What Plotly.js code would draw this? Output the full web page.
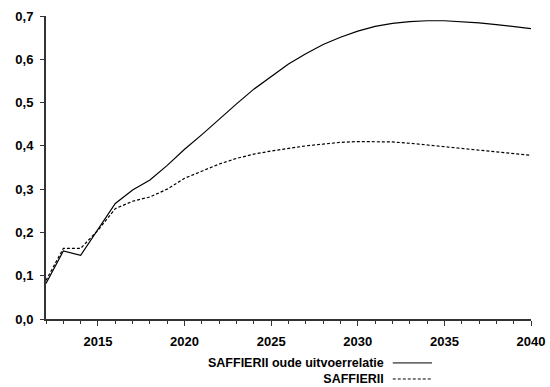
<!DOCTYPE html>
<html>
<head>
<meta charset="utf-8">
<script src="https://cdn.plot.ly/plotly-3.0.1.min.js"></script>
<style>
  html, body { margin: 0; padding: 0; background: #fff; }
  #chart { width: 550px; height: 387px; }
</style>
</head>
<body>
<div id="chart"></div>
<script>
// Years on the horizontal axis
const years = [2012, 2013, 2014, 2015, 2016, 2017, 2018, 2019, 2020, 2021,
               2022, 2023, 2024, 2025, 2026, 2027, 2028, 2029, 2030, 2031,
               2032, 2033, 2034, 2035, 2036, 2037, 2038, 2039, 2040];

// SAFFIERII with the old output relation (solid)
const oudeUitvoerrelatie = [0.082, 0.157, 0.147, 0.207, 0.267, 0.298, 0.321, 0.355, 0.392, 0.426,
                            0.462, 0.497, 0.531, 0.561, 0.589, 0.613, 0.634, 0.651, 0.665, 0.676,
                            0.683, 0.687, 0.689, 0.689, 0.687, 0.684, 0.680, 0.676, 0.671];

// SAFFIERII (dashed)
const saffierII = [0.089, 0.163, 0.163, 0.205, 0.255, 0.272, 0.282, 0.300, 0.325, 0.342,
                   0.358, 0.371, 0.381, 0.388, 0.394, 0.400, 0.404, 0.408, 0.410, 0.410,
                   0.409, 0.406, 0.402, 0.398, 0.394, 0.390, 0.386, 0.382, 0.378];

const seriesNames = ['SAFFIERII oude uitvoerrelatie', 'SAFFIERII'];
const yTicks = [0, 0.1, 0.2, 0.3, 0.4, 0.5, 0.6, 0.7];

const fontFamily = 'Liberation Sans, Arial, sans-serif';
const axisColor = '#333333';

const traces = [
  {
    x: years, y: oudeUitvoerrelatie, name: seriesNames[0],
    type: 'scatter', mode: 'lines', line: { color: '#000', width: 1.2 },
    showlegend: false, hoverinfo: 'skip'
  },
  {
    x: years, y: saffierII, name: seriesNames[1],
    type: 'scatter', mode: 'lines', line: { color: '#000', width: 1.2, dash: '3px,2px' },
    showlegend: false, hoverinfo: 'skip'
  }
];

// Legend drawn beneath the axis: right-aligned labels (one text block)
// with a line sample after each row
const legendDashes = ['solid', '3px,2px'];
const legendRowY = [-0.145, -0.198];
const annotations = [{
  xref: 'paper', yref: 'paper', x: 0.701, y: (legendRowY[0] + legendRowY[1]) / 2,
  xanchor: 'right', yanchor: 'middle', align: 'right',
  text: seriesNames.map(n => '<b>' + n + '</b>').join('<br>'), showarrow: false,
  font: { family: fontFamily, size: 12.5, color: '#000' }
}];
const shapes = seriesNames.map((n, i) => ({
  type: 'line', xref: 'paper', yref: 'paper', x0: 0.715, x1: 0.796, y0: legendRowY[i], y1: legendRowY[i],
  line: { color: '#000', width: 1, dash: legendDashes[i] }
}));

const layout = {
  width: 550, height: 387,
  margin: { l: 46, r: 19, t: 16, b: 68 },
  paper_bgcolor: '#fff', plot_bgcolor: '#fff',
  separators: ',.',
  font: { family: fontFamily, size: 13, color: '#000' },
  showlegend: false,
  xaxis: {
    range: [2012, 2040], tick0: 2015, dtick: 5,
    showgrid: false, zeroline: false,
    showline: true, linecolor: axisColor, linewidth: 2,
    ticks: 'outside', ticklen: 5, tickwidth: 1, tickcolor: axisColor,
    ticklabelstandoff: 4,
    minor: { dtick: 1, tick0: 2012, ticks: 'outside', ticklen: 3, tickwidth: 1, tickcolor: axisColor, showgrid: false },
    tickfont: { family: fontFamily, size: 13, color: '#000', weight: 'bold' }
  },
  yaxis: {
    range: [0, 0.7], tickvals: yTicks, tickformat: '.1f',
    showgrid: false, zeroline: false,
    showline: true, linecolor: axisColor, linewidth: 2,
    ticks: 'outside', ticklen: 4, tickwidth: 1, tickcolor: axisColor,
    ticklabelstandoff: 4,
    tickfont: { family: fontFamily, size: 13, color: '#000', weight: 'bold' }
  },
  annotations: annotations,
  shapes: shapes
};

Plotly.newPlot('chart', traces, layout, { staticPlot: true, displayModeBar: false });
</script>
</body>
</html>
